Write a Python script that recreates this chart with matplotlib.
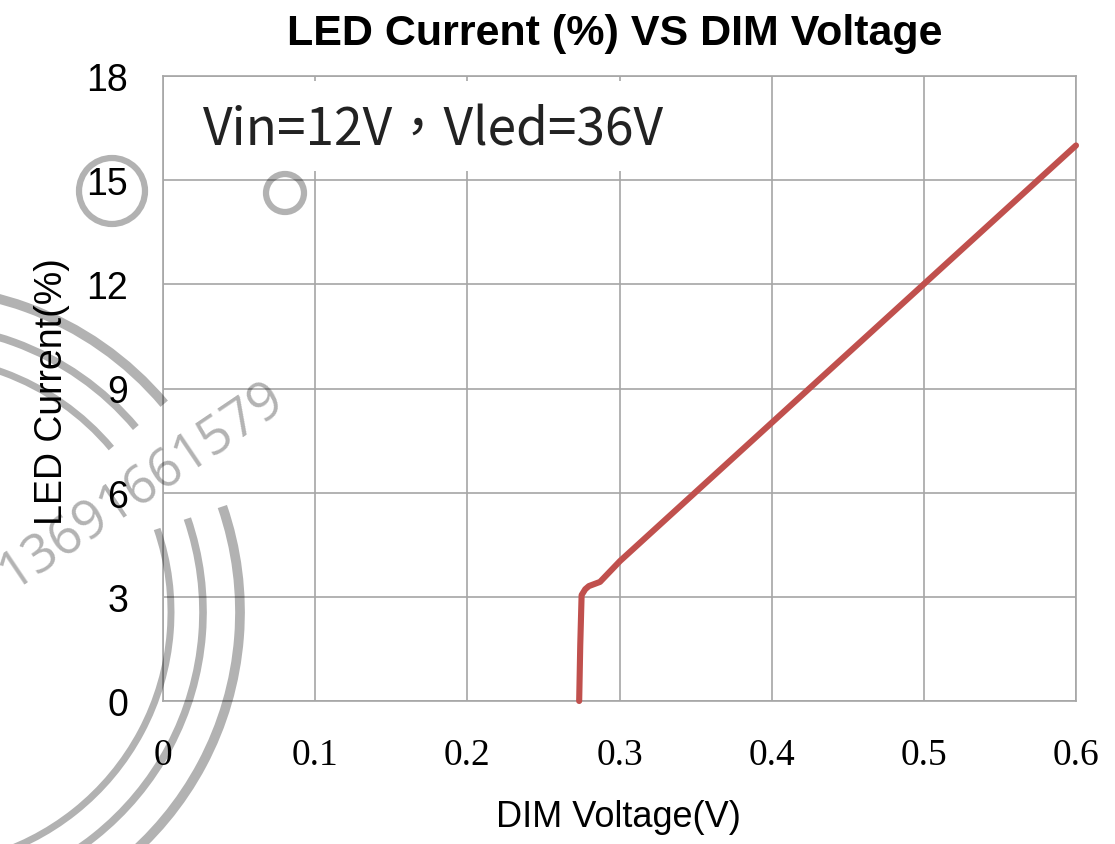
import matplotlib
matplotlib.use("Agg")
import matplotlib.pyplot as plt
from matplotlib.patches import Arc, Circle, Rectangle

# Data
dim_voltage = [0.2735, 0.2742, 0.2751, 0.2775, 0.2799, 0.2872, 0.3003, 0.6000]
led_current = [0.0, 1.6, 3.05, 3.22, 3.31, 3.43, 4.03, 16.0]
x_ticks = [0, 0.1, 0.2, 0.3, 0.4, 0.5, 0.6]
x_tick_labels = ["0", "0.1", "0.2", "0.3", "0.4", "0.5", "0.6"]
y_ticks = [0, 3, 6, 9, 12, 15, 18]
y_tick_labels = ["0", "3", "6", "9", "12", "15", "18"]
title = "LED Current (%) VS DIM Voltage"
x_label = "DIM Voltage(V)"
y_label = "LED Current(%)"
note = "Vin=12V\uff0cVled=36V"
watermark = "13691661579"

W, H = 1115, 845
fig = plt.figure(figsize=(W / 100, H / 100), dpi=100)
fig.patch.set_facecolor("white")
ax = fig.add_axes([163 / W, 1 - 702 / H, (1076 - 163) / W, (702 - 77) / H])

grid_c = "#a6a6a6"
ax.set_xlim(0, 0.6)
ax.set_ylim(0, 18)
ax.set_xticks(x_ticks)
ax.set_yticks(y_ticks)
ax.set_xticklabels(x_tick_labels, fontfamily="Liberation Serif", fontsize=27)
ax.set_yticklabels(y_tick_labels, fontfamily="Liberation Sans", fontsize=27)
ax.tick_params(axis="both", length=0, colors="black")
ax.tick_params(axis="x", pad=26)
ax.tick_params(axis="y", pad=25)
ax.grid(True, color=grid_c, linewidth=1.2, zorder=1)
ax.set_axisbelow(True)
for s in ax.spines.values():
    s.set_color(grid_c)
    s.set_linewidth(1.2)

# white box behind the note
ax.add_patch(Rectangle((0.002, 15.25), 0.36, 2.6, facecolor="white",
                       edgecolor="none", zorder=1.5))
ax.text(0.026, 16.45, note, fontsize=37, va="center", ha="left",
        family=["Noto Sans CJK TC", "DejaVu Sans"], color="#222222", zorder=3)

ax.plot(dim_voltage, led_current, color="#c0504d", linewidth=4.4,
        solid_capstyle="round", solid_joinstyle="round", zorder=4, clip_on=False)

fig.text(615 / W, 1 - 34 / H, title, ha="center", va="center",
         fontsize=31, fontweight="bold", fontfamily="Liberation Sans")
fig.text(618 / W, 1 - 818 / H, x_label, ha="center", va="center",
         fontsize=26, fontfamily="Liberation Sans")
fig.text(52 / W, 1 - 392 / H, y_label, ha="center", va="center",
         rotation=90, fontsize=27, fontfamily="Liberation Sans")

# watermark overlay in figure pixel coordinates
ov = fig.add_axes([0, 0, 1, 1], facecolor="none", zorder=10)
ov.set_xlim(0, W)
ov.set_ylim(H, 0)
ov.axis("off")
wm = (0, 0, 0, 0.30)
cx, cy = -84, 613
# y axis is inverted, so negative angles lie above the centre
for r, lw in [(255, 5.0), (287, 5.5), (324, 7.0)]:
    ov.add_patch(Arc((cx, cy), 2 * r, 2 * r, theta1=-100, theta2=-40,
                     color=wm, linewidth=lw))
    ov.add_patch(Arc((cx, cy), 2 * r, 2 * r, theta1=-19, theta2=75,
                     color=wm, linewidth=lw))
ov.add_patch(Circle((112, 192), 33, fill=False, edgecolor=wm, linewidth=4.5))
ov.add_patch(Circle((285, 194), 19, fill=False, edgecolor=wm, linewidth=4.5))
ov.text(142, 486, watermark, rotation=34, ha="center", va="center",
        fontsize=38, color=wm, fontfamily="Open Sans", rotation_mode="anchor")

fig.savefig("out.png", dpi=100, facecolor="white")
